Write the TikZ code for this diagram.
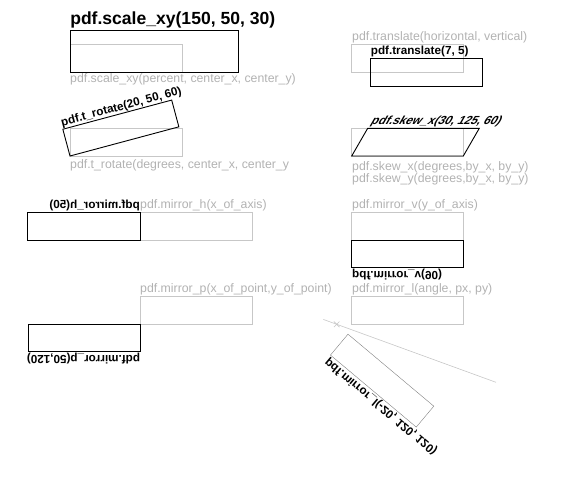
\documentclass[tikz,border=0pt]{standalone}
\usepackage{fontspec}
\setmainfont{Liberation Sans}
\usetikzlibrary{shapes.misc}
\definecolor{boxgray}{gray}{0.78}
\definecolor{textgray}{gray}{0.7}
\tikzset{graybox/.style = {draw=boxgray, line width=0.8pt}}
\tikzset{blackbox/.style = {draw=black, line width=0.9pt}}
\tikzset{thinbox/.style = {draw=black!50, line width=0.4pt}}
\tikzset{graylabel/.style = {anchor=base west, inner sep=0pt, text=textgray, font=\fontsize{12.3}{12.3}\selectfont}}
\tikzset{blacklabel/.style = {anchor=base west, inner sep=0pt, font=\fontsize{11.7}{11.7}\selectfont\bfseries}}

\begin{document}
\begin{tikzpicture}[x=1pt, y=-1pt]
\useasboundingbox (0,0) rectangle (585,485);

% scale_xy
\draw[graybox] (70,44) rectangle (182,72);
\node[graylabel] (scalehelp) at (70,82.7) {pdf.scale\_xy(percent, center\_x, center\_y)};
\begin{scope}[shift={(70,72)}, scale=1.5, shift={(-70,-72)}, transform shape]
\draw[blackbox] (70,44) rectangle (182,72);
\node[blacklabel] (scaletxt) at (70,40.5) {pdf.scale\_xy(150, 50, 30)};
\end{scope}

% translate
\draw[graybox] (351.7,44) rectangle (463.3,72);
\node[graylabel] (movehelp) at (352,40) {pdf.translate(horizontal, vertical)};
\begin{scope}[shift={(18.7,14)}]
\draw[blackbox] (351.7,44) rectangle (463.3,72);
\node[blacklabel] (movetxt) at (352,40.5) {pdf.translate(7, 5)};
\end{scope}

% t_rotate
\draw[graybox] (70,128.3) rectangle (182.7,156);
\node[graylabel] (rothelp) at (70,168.3) {pdf.t\_rotate(degrees, center\_x, center\_y};
\begin{scope}[shift={(70,156)}, rotate=15, shift={(-70,-156)}, transform shape]
\draw[blackbox] (70,128.3) rectangle (182.7,156);
\node[blacklabel] (rottxt) at (70,125.2) {pdf.t\_rotate(20, 50, 60)};
\end{scope}

% skew
\draw[graybox] (351.7,128.3) rectangle (463.3,156);
\node[graylabel] (skewxhelp) at (352,170.5) {pdf.skew\_x(degrees,by\_x, by\_y)};
\node[graylabel] (skewyhelp) at (352,182.5) {pdf.skew\_y(degrees,by\_x, by\_y)};
\begin{scope}[shift={(351.7,156)}, xslant=0.577, shift={(-351.7,-156)}, transform shape]
\draw[blackbox] (351.7,128.3) rectangle (463.3,156);
\node[blacklabel] (skewtxt) at (352,124.8) {pdf.skew\_x(30, 125, 60)};
\end{scope}

% mirror_h
\draw[graybox] (140,212.3) rectangle (252.3,240.3);
\node[graylabel] (mhhelp) at (140,208.3) {pdf.mirror\_h(x\_of\_axis)};
\begin{scope}[shift={(140,0)}, xscale=-1, shift={(-140,0)}, transform shape]
\draw[blackbox] (140,212.3) rectangle (252.3,240.3);
\node[blacklabel] (mhtxt) at (140,208.8) {pdf.mirror\_h(50)};
\end{scope}

% mirror_v
\draw[graybox] (351.7,212.7) rectangle (463.3,240);
\node[graylabel] (mvhelp) at (352,208.3) {pdf.mirror\_v(y\_of\_axis)};
\begin{scope}[shift={(0,240)}, yscale=-1, shift={(0,-240)}, transform shape]
\draw[blackbox] (351.7,212.7) rectangle (463.3,240);
\node[blacklabel] (mvtxt) at (352,208.8) {pdf.mirror\_v(90)};
\end{scope}

% mirror_p
\draw[graybox] (140.3,296.7) rectangle (252.3,324);
\node[graylabel] (mphelp) at (140,292.5) {pdf.mirror\_p(x\_of\_point,y\_of\_point)};
\begin{scope}[shift={(140.3,324)}, rotate=180, shift={(-140.3,-324)}, transform shape]
\draw[blackbox] (140.3,296.7) rectangle (252.3,324);
\node[blacklabel] (mptxt) at (140.3,293) {pdf.mirror\_p(50,120)};
\end{scope}

% mirror_l
\draw[graybox] (351.7,296.7) rectangle (463.7,324);
\node[graylabel] (mlhelp) at (352,292.5) {pdf.mirror\_l(angle, px, py)};
\coordinate (axisA) at (323.3,319.4);
\coordinate (axisB) at (496,382.3);
\draw[boxgray, line width=0.6pt] (axisA) -- (axisB);
\node[cross out, draw=boxgray, line width=0.6pt, minimum size=5pt, inner sep=0pt] (pivot) at (336.7,324.3) {};
\begin{scope}[shift={(336.7,324.3)}, rotate=-20, yscale=-1, rotate=20, shift={(-336.7,-324.3)}, transform shape]
\draw[thinbox] (351.7,296.7) rectangle (463.7,324);
\node[blacklabel] (mltxt) at (352,293) {pdf.mirror\_l(-20, 120, 120)};
\end{scope}
\end{tikzpicture}
\end{document}
